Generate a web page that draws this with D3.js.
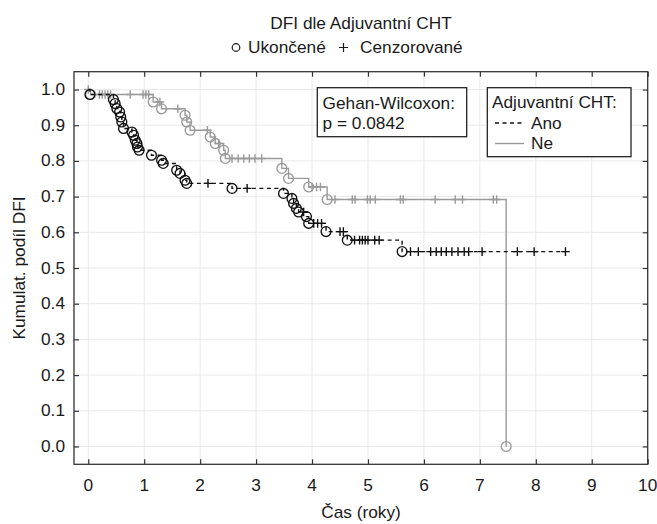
<!DOCTYPE html>
<html><head><meta charset="utf-8">
<script src="https://cdn.jsdelivr.net/npm/d3@7/dist/d3.min.js"></script>
<style>html,body{margin:0;padding:0;background:#fff;}svg{display:block;}</style>
</head><body>
<script>
const title = "DFI dle Adjuvantní CHT";
const markerLegend = ["Ukončené", "Cenzorované"];
const xLabel = "Čas (roky)";
const yLabel = "Kumulat. podíl DFI";
const xTicks = [0,1,2,3,4,5,6,7,8,9,10];
const yTicks = [0.0,0.1,0.2,0.3,0.4,0.5,0.6,0.7,0.8,0.9,1.0];
const groups = ["Ano", "Ne"];
const testLines = ["Gehan-Wilcoxon:", "p = 0.0842"];
const legendTitle = "Adjuvantní CHT:";

// Ano (dashed black)
const anoEventTimes = [0.03,0.45,0.48,0.51,0.56,0.58,0.60,0.63,0.78,0.81,0.84,0.87,0.88,0.91,1.13,1.31,1.34,1.58,1.64,1.73,1.76,2.57,3.49,3.64,3.67,3.72,3.76,3.90,3.94,4.25,4.63,5.61];
const anoEventSurv  = [0.986,0.972,0.961,0.947,0.937,0.923,0.909,0.891,0.881,0.872,0.858,0.849,0.839,0.830,0.816,0.802,0.793,0.774,0.765,0.746,0.737,0.723,0.709,0.695,0.681,0.667,0.657,0.644,0.625,0.602,0.578,0.546];
const anoCensTimes  = [2.14,2.84,3.85,4.03,4.10,4.17,4.50,4.56,4.76,4.85,4.90,4.95,5.00,5.12,5.20,5.76,5.90,6.12,6.22,6.31,6.40,6.50,6.61,6.72,6.80,7.04,7.67,7.97,8.53];

// Ne (solid gray)
const neEventTimes = [0.04,1.16,1.31,1.73,1.76,1.82,2.18,2.27,2.42,2.45,3.46,3.58,3.94,4.27,7.47];
const neEventSurv  = [0.986,0.965,0.946,0.928,0.909,0.886,0.867,0.849,0.830,0.807,0.779,0.751,0.727,0.692,0.0];
const neCensTimes  = [0.0,0.20,0.25,0.30,0.35,0.40,0.75,0.98,1.03,1.08,1.28,1.60,2.13,2.33,2.57,2.68,2.78,2.88,2.98,3.10,4.00,4.08,4.15,4.41,4.72,4.77,4.99,5.04,5.13,5.58,5.63,6.20,6.56,6.69,7.24,7.30];

const W = 657, H = 524;
const FONT = "'Liberation Sans', Arial, sans-serif";
const FS = 16, SX = 1.08;
const GRAY = "#9a9a9a", BLACK = "#111";

const svg = d3.select("body").append("svg").attr("width", W).attr("height", H)
  .style("font-family", FONT);

const x = d3.scaleLinear().domain([-0.255, 10]).range([74, 647.7]);
const y = d3.scaleLinear().domain([-0.05, 1.05]).range([464.3, 71.7]);

function txt(g, px, py, s, anchor) {
  return g.append("text")
    .attr("transform", `translate(${px},${py}) scale(${SX},1)`)
    .attr("text-anchor", anchor || "start")
    .attr("font-size", FS).attr("fill", "#1a1a1a").text(s);
}

// grid
const grid = svg.append("g");
grid.selectAll("line.vx").data(xTicks).join("line")
  .attr("x1", d => x(d)).attr("x2", d => x(d)).attr("y1", y.range()[1]).attr("y2", y.range()[0])
  .attr("stroke", "#e9e9e9").attr("stroke-width", 1);
grid.selectAll("line.hy").data(yTicks).join("line")
  .attr("y1", d => y(d)).attr("y2", d => y(d)).attr("x1", x.range()[0]).attr("x2", x.range()[1])
  .attr("stroke", "#e9e9e9").attr("stroke-width", 1);

// axes (ticks inward on all sides)
const fmt = d3.format(".1f");
const axB = svg.append("g").attr("transform", `translate(0,${y.range()[0]})`)
  .call(d3.axisBottom(x).tickValues(xTicks).tickSize(-5).tickFormat(""));
const axT = svg.append("g").attr("transform", `translate(0,${y.range()[1]})`)
  .call(d3.axisTop(x).tickValues(xTicks).tickSize(-5).tickFormat(""));
const axL = svg.append("g").attr("transform", `translate(${x.range()[0]},0)`)
  .call(d3.axisLeft(y).tickValues(yTicks).tickSize(-5).tickFormat(""));
const axR = svg.append("g").attr("transform", `translate(${x.range()[1]},0)`)
  .call(d3.axisRight(y).tickValues(yTicks).tickSize(-5).tickFormat(""));
[axB, axT, axL, axR].forEach(a => {
  a.select(".domain").remove();
  a.selectAll(".tick line").attr("stroke", "#333").attr("stroke-width", 1.2);
});

// tick labels
const lbl = svg.append("g");
xTicks.forEach(d => txt(lbl, x(d), 491, String(d), "middle"));
yTicks.forEach(d => txt(lbl, 65, y(d) + 5.5, fmt(d), "end"));

// frame
svg.append("rect").attr("x", x.range()[0]).attr("y", y.range()[1])
  .attr("width", x.range()[1] - x.range()[0]).attr("height", y.range()[0] - y.range()[1])
  .attr("fill", "none").attr("stroke", "#333").attr("stroke-width", 1.3);

// step function helpers
function survAt(times, surv, t) {
  let s = 1;
  for (let i = 0; i < times.length; i++) if (times[i] <= t) s = surv[i];
  return s;
}
function stepPoints(times, surv, cens) {
  const pts = [[0, 1]];
  times.forEach((t, i) => pts.push([t, surv[i]]));
  const lastT = Math.max(d3.max(times), d3.max(cens));
  if (lastT > d3.max(times)) pts.push([lastT, surv[surv.length - 1]]);
  return pts;
}
const line = d3.line().x(d => x(d[0])).y(d => y(d[1])).curve(d3.curveStepAfter);

function drawGroup(times, surv, cens, color, dash) {
  const g = svg.append("g");
  g.append("path").datum(stepPoints(times, surv, cens)).attr("d", line)
    .attr("fill", "none").attr("stroke", color).attr("stroke-width", 1.4)
    .attr("stroke-dasharray", dash || null);
  g.selectAll("circle").data(times.map((t, i) => [t, surv[i]])).join("circle")
    .attr("cx", d => x(d[0])).attr("cy", d => y(d[1])).attr("r", 4.9)
    .attr("fill", "none").attr("stroke", color).attr("stroke-width", 1.35);
  const c = 4.3;
  g.selectAll("path.cens").data(cens.map(t => [t, survAt(times, surv, t)])).join("path")
    .attr("class", "cens")
    .attr("d", d => `M${x(d[0]) - c},${y(d[1])}H${x(d[0]) + c}M${x(d[0])},${y(d[1]) - c}V${y(d[1]) + c}`)
    .attr("stroke", color).attr("stroke-width", 1.4).attr("fill", "none");
}
drawGroup(neEventTimes, neEventSurv, neCensTimes, GRAY, null);
drawGroup(anoEventTimes, anoEventSurv, anoCensTimes, BLACK, "4,3.5");

// title
const cx = 361;
txt(svg, cx, 29, title, "middle");
// marker legend line
const ml = svg.append("g");
ml.append("circle").attr("cx", 236).attr("cy", 47.5).attr("r", 3.8)
  .attr("fill", "none").attr("stroke", "#1a1a1a").attr("stroke-width", 1.2);
txt(ml, 248, 53, markerLegend[0], "start");
ml.append("path").attr("d", "M339,47.5H348M343.5,43V52").attr("stroke", "#1a1a1a").attr("stroke-width", 1.2);
txt(ml, 360, 53, markerLegend[1], "start");

// Gehan-Wilcoxon box
const gb = svg.append("g");
gb.append("rect").attr("x", 317.3).attr("y", 87.7).attr("width", 149.4).attr("height", 49)
  .attr("fill", "#fff").attr("stroke", "#222").attr("stroke-width", 1.3);
txt(gb, 322.5, 109, testLines[0], "start");
txt(gb, 322.5, 129, testLines[1], "start");

// group legend box
const lg = svg.append("g");
lg.append("rect").attr("x", 487.3).attr("y", 87.7).attr("width", 143.7).attr("height", 69)
  .attr("fill", "#fff").attr("stroke", "#222").attr("stroke-width", 1.3);
txt(lg, 492, 108, legendTitle, "start");
lg.append("line").attr("x1", 495).attr("x2", 524).attr("y1", 123).attr("y2", 123)
  .attr("stroke", BLACK).attr("stroke-width", 1.4).attr("stroke-dasharray", "4,3.5");
txt(lg, 531, 129, groups[0], "start");
lg.append("line").attr("x1", 495).attr("x2", 524).attr("y1", 143.5).attr("y2", 143.5)
  .attr("stroke", GRAY).attr("stroke-width", 1.4);
txt(lg, 531, 149, groups[1], "start");

// axis titles
txt(svg, cx, 518, xLabel, "middle");
svg.append("text").attr("transform", `translate(25,${(y.range()[0] + y.range()[1]) / 2}) rotate(-90) scale(${SX},1)`)
  .attr("text-anchor", "middle").attr("font-size", FS).attr("fill", "#1a1a1a").text(yLabel);
</script>
</body></html>
